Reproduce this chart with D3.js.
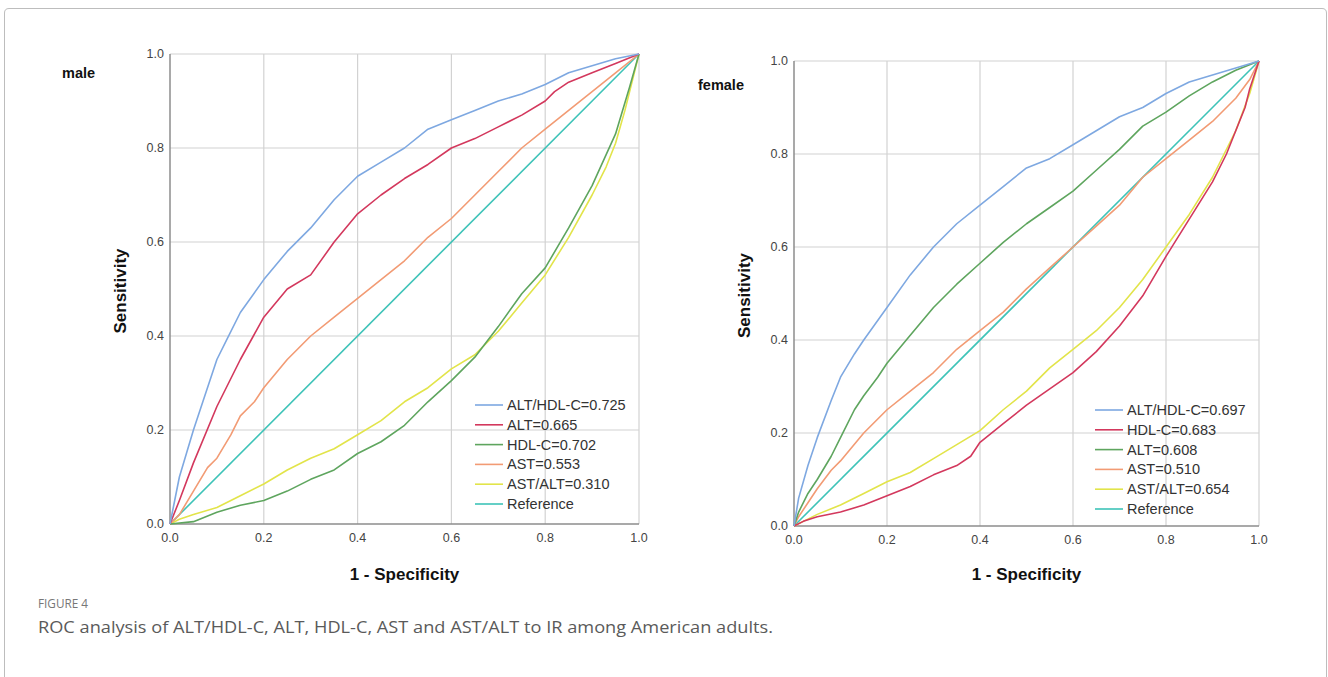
<!DOCTYPE html>
<html lang="en">
<head>
<meta charset="utf-8">
<title>ROC analysis</title>
<script src="https://cdn.jsdelivr.net/npm/d3@7"></script>
<style>
  body { margin: 0; background: #fff; }
  svg { display: block; }
  .tick-label { font: 12.5px 'Liberation Sans', Arial, sans-serif; fill: #444; }
  .axis-title { font: bold 17px 'Liberation Sans', Arial, sans-serif; fill: #111; }
  .panel-title { font: bold 14.5px 'Liberation Sans', Arial, sans-serif; fill: #111; }
  .legend { font: 14.5px 'Liberation Sans', Arial, sans-serif; fill: #333; }
  .fig-no { font: 12.5px 'Open Sans', sans-serif; fill: #777; }
  .caption { font: 17px 'Open Sans', sans-serif; fill: #5a5a5a; }
</style>
</head>
<body>
<div id="chart"></div>
<script>
// tick values for both axes
const ticks = [0, 0.2, 0.4, 0.6, 0.8, 1.0];

// male curves: [1 - specificity, sensitivity]
const maleAltHdl = [[0,0],[0.01,0.05],[0.02,0.1],[0.035,0.15],[0.05,0.2],[0.07,0.26],[0.1,0.35],[0.12,0.39],[0.15,0.45],[0.2,0.52],[0.25,0.58],[0.3,0.63],[0.35,0.69],[0.4,0.74],[0.45,0.77],[0.5,0.8],[0.55,0.84],[0.6,0.86],[0.65,0.88],[0.7,0.9],[0.75,0.915],[0.8,0.935],[0.85,0.96],[0.9,0.975],[0.95,0.99],[1,1]];
const maleAlt = [[0,0],[0.02,0.05],[0.05,0.13],[0.1,0.25],[0.15,0.35],[0.2,0.44],[0.25,0.5],[0.3,0.53],[0.35,0.6],[0.4,0.66],[0.45,0.7],[0.5,0.735],[0.55,0.765],[0.6,0.8],[0.65,0.82],[0.7,0.845],[0.75,0.87],[0.8,0.9],[0.82,0.92],[0.85,0.94],[0.9,0.96],[0.95,0.98],[1,1]];
const maleHdl = [[0,0],[0.05,0.005],[0.1,0.025],[0.15,0.04],[0.2,0.05],[0.25,0.07],[0.3,0.095],[0.35,0.115],[0.4,0.15],[0.45,0.175],[0.5,0.21],[0.55,0.26],[0.6,0.305],[0.65,0.355],[0.7,0.42],[0.75,0.49],[0.8,0.545],[0.85,0.63],[0.9,0.72],[0.95,0.83],[0.98,0.93],[1,1]];
const maleAst = [[0,0],[0.02,0.02],[0.05,0.07],[0.08,0.12],[0.1,0.14],[0.13,0.19],[0.15,0.23],[0.18,0.26],[0.2,0.29],[0.25,0.35],[0.3,0.4],[0.35,0.44],[0.4,0.48],[0.45,0.52],[0.5,0.56],[0.55,0.61],[0.6,0.65],[0.65,0.7],[0.7,0.75],[0.75,0.8],[0.8,0.84],[0.85,0.88],[0.9,0.92],[0.95,0.96],[1,1]];
const maleAstAlt = [[0,0],[0.02,0.01],[0.05,0.02],[0.1,0.035],[0.15,0.06],[0.2,0.085],[0.25,0.115],[0.3,0.14],[0.35,0.16],[0.4,0.19],[0.45,0.22],[0.5,0.26],[0.55,0.29],[0.6,0.33],[0.65,0.36],[0.7,0.41],[0.75,0.47],[0.8,0.53],[0.85,0.61],[0.9,0.7],[0.93,0.76],[0.95,0.81],[0.97,0.88],[1,1]];

// female curves
const femaleAltHdl = [[0,0],[0.01,0.06],[0.03,0.13],[0.05,0.19],[0.08,0.27],[0.1,0.32],[0.13,0.37],[0.15,0.4],[0.2,0.47],[0.25,0.54],[0.3,0.6],[0.35,0.65],[0.4,0.69],[0.45,0.73],[0.5,0.77],[0.55,0.79],[0.6,0.82],[0.65,0.85],[0.7,0.88],[0.75,0.9],[0.8,0.93],[0.85,0.955],[0.9,0.97],[0.95,0.985],[1,1]];
const femaleHdl = [[0,0],[0.02,0.01],[0.05,0.02],[0.1,0.03],[0.15,0.045],[0.2,0.065],[0.25,0.085],[0.3,0.11],[0.35,0.13],[0.38,0.15],[0.4,0.18],[0.45,0.22],[0.5,0.26],[0.55,0.295],[0.6,0.33],[0.65,0.375],[0.7,0.43],[0.75,0.495],[0.8,0.58],[0.85,0.66],[0.9,0.74],[0.93,0.8],[0.95,0.85],[0.97,0.9],[0.98,0.94],[1,1]];
const femaleAlt = [[0,0],[0.01,0.03],[0.03,0.07],[0.05,0.1],[0.08,0.15],[0.1,0.19],[0.13,0.25],[0.15,0.28],[0.18,0.32],[0.2,0.35],[0.25,0.41],[0.3,0.47],[0.35,0.52],[0.4,0.565],[0.45,0.61],[0.5,0.65],[0.55,0.685],[0.6,0.72],[0.65,0.765],[0.7,0.81],[0.75,0.86],[0.8,0.89],[0.85,0.925],[0.9,0.955],[0.95,0.98],[1,1]];
const femaleAst = [[0,0],[0.01,0.02],[0.03,0.05],[0.05,0.08],[0.08,0.12],[0.1,0.14],[0.15,0.2],[0.2,0.25],[0.25,0.29],[0.3,0.33],[0.35,0.38],[0.4,0.42],[0.45,0.46],[0.5,0.51],[0.55,0.555],[0.6,0.6],[0.65,0.645],[0.7,0.69],[0.75,0.75],[0.8,0.79],[0.85,0.83],[0.9,0.87],[0.95,0.92],[0.98,0.96],[1,1]];
const femaleAstAlt = [[0,0],[0.02,0.01],[0.05,0.025],[0.1,0.045],[0.15,0.07],[0.2,0.095],[0.25,0.115],[0.3,0.145],[0.35,0.175],[0.4,0.205],[0.45,0.25],[0.5,0.29],[0.55,0.34],[0.6,0.38],[0.65,0.42],[0.7,0.47],[0.75,0.53],[0.8,0.6],[0.85,0.67],[0.9,0.75],[0.95,0.85],[0.98,0.93],[1,1]];

const diagonal = [[0,0],[1,1]];

const maleLabels = ["ALT/HDL-C=0.725", "ALT=0.665", "HDL-C=0.702", "AST=0.553", "AST/ALT=0.310", "Reference"];
const femaleLabels = ["ALT/HDL-C=0.697", "HDL-C=0.683", "ALT=0.608", "AST=0.510", "AST/ALT=0.654", "Reference"];

const seriesColors = ["#7ea8e1", "#d3385d", "#5ea55e", "#f29b74", "#e2e44a", "#3ec3b8"];

const W = 1328, H = 677;
const svg = d3.select("#chart").append("svg").attr("width", W).attr("height", H);

// outer frame (open at bottom)
svg.append("path")
  .attr("d", `M4.5,${H} L4.5,13 Q4.5,8.5 9,8.5 L1322,8.5 Q1326.5,8.5 1326.5,13 L1326.5,${H}`)
  .attr("fill", "none").attr("stroke", "#bdbdbd").attr("stroke-width", 1);

function drawPanel(p) {
  const x = d3.scaleLinear().domain([0, 1]).range([p.x0, p.x1]);
  const y = d3.scaleLinear().domain([0, 1]).range([p.y0, p.y1]);
  const g = svg.append("g");

  // grid
  g.selectAll(".vg").data(ticks.slice(1)).enter().append("line")
    .attr("x1", d => x(d)).attr("x2", d => x(d))
    .attr("y1", y(0)).attr("y2", y(1))
    .attr("stroke", "#d2d2d2").attr("stroke-width", 1.2);
  g.selectAll(".hg").data(ticks.slice(1)).enter().append("line")
    .attr("x1", x(0)).attr("x2", x(1))
    .attr("y1", d => y(d)).attr("y2", d => y(d))
    .attr("stroke", "#d2d2d2").attr("stroke-width", 1.2);

  // axes lines
  g.append("line").attr("x1", x(0)).attr("x2", x(0)).attr("y1", y(0)).attr("y2", y(1))
    .attr("stroke", "#8c8c8c").attr("stroke-width", 1.5);
  g.append("line").attr("x1", x(0)).attr("x2", x(1)).attr("y1", y(0)).attr("y2", y(0))
    .attr("stroke", "#8c8c8c").attr("stroke-width", 1.5);

  // tick labels
  g.selectAll(".xt").data(ticks).enter().append("text").attr("class", "tick-label")
    .attr("x", d => x(d)).attr("y", y(0) + 18).attr("text-anchor", "middle")
    .text(d => d.toFixed(1));
  g.selectAll(".yt").data(ticks).enter().append("text").attr("class", "tick-label")
    .attr("x", x(0) - 6).attr("y", d => y(d) + 4).attr("text-anchor", "end")
    .text(d => d.toFixed(1));

  // curves
  const line = d3.line().x(d => x(d[0])).y(d => y(d[1]));
  const drawOrder = [5, 4, 3, 2, 1, 0];
  drawOrder.forEach(i => {
    g.append("path").datum(p.series[i]).attr("d", line)
      .attr("fill", "none").attr("stroke", seriesColors[i])
      .attr("stroke-width", 1.6).attr("stroke-linejoin", "round");
  });

  // legend
  const lg = g.append("g").attr("transform", `translate(${p.legendX},${p.legendY})`);
  p.labels.forEach((lab, i) => {
    lg.append("line").attr("x1", 0).attr("x2", 28).attr("y1", i * 19.8).attr("y2", i * 19.8)
      .attr("stroke", seriesColors[i]).attr("stroke-width", 1.6);
    lg.append("text").attr("class", "legend").attr("x", 32).attr("y", i * 19.8 + 5).text(lab);
  });

  // titles
  g.append("text").attr("class", "panel-title").attr("x", p.titleX).attr("y", p.titleY).text(p.title);
  g.append("text").attr("class", "axis-title").attr("text-anchor", "middle")
    .attr("x", (p.x0 + p.x1) / 2).attr("y", 580).text("1 - Specificity");
  g.append("text").attr("class", "axis-title").attr("text-anchor", "middle")
    .attr("transform", `translate(${p.x0 - 44},${(p.y0 + p.y1) / 2 + 2}) rotate(-90)`)
    .text("Sensitivity");
}

drawPanel({
  x0: 170, x1: 639, y0: 524, y1: 54,
  series: [maleAltHdl, maleAlt, maleHdl, maleAst, maleAstAlt, diagonal],
  labels: maleLabels, legendX: 475, legendY: 405,
  title: "male", titleX: 62, titleY: 78
});

drawPanel({
  x0: 794, x1: 1259, y0: 526, y1: 61,
  series: [femaleAltHdl, femaleHdl, femaleAlt, femaleAst, femaleAstAlt, diagonal],
  labels: femaleLabels, legendX: 1095, legendY: 410,
  title: "female", titleX: 698, titleY: 90
});

// caption
svg.append("text").attr("class", "fig-no").attr("x", 38).attr("y", 608)
  .attr("textLength", 50).attr("lengthAdjust", "spacingAndGlyphs").text("FIGURE 4");
svg.append("text").attr("class", "caption").attr("x", 38).attr("y", 633)
  .attr("textLength", 735).attr("lengthAdjust", "spacingAndGlyphs")
  .text("ROC analysis of ALT/HDL-C, ALT, HDL-C, AST and AST/ALT to IR among American adults.");
</script>
</body>
</html>
